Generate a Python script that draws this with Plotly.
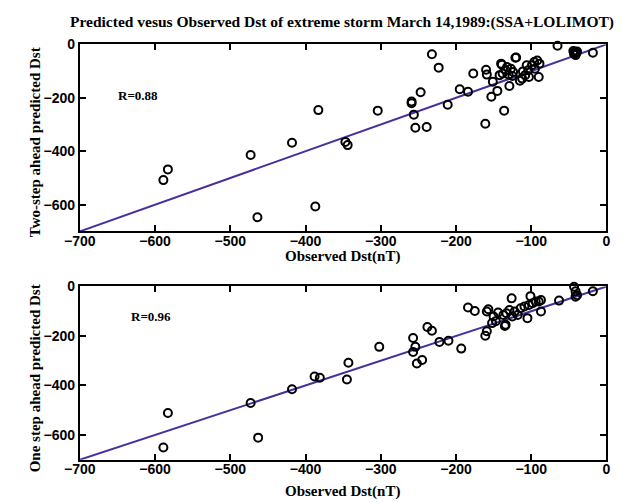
import plotly.graph_objects as go

# Two-step ahead (top panel)
obs_two = [-589, -583, -473, -464, -418, -383, -387, -347, -344, -304, -259, -259, -256, -254, -239,
           -247, -232, -223, -211, -195, -184, -177, -161, -160, -159, -153, -151, -145, -139, -136,
           -142, -138, -134, -132, -127, -124, -130, -125, -129, -120, -115, -112, -108, -104, -99,
           -96, -92, -89, -90, -103, -106, -95, -111, -140, -121, -65, -44, -42, -40, -43, -39, -41, -18]
pred_two = [-508, -468, -414, -647, -368, -246, -607, -365, -377, -248, -214, -220, -263, -312, -309,
            -179, -37, -87, -226, -168, -177, -109, -297, -95, -113, -196, -140, -174, -76, -248,
            -115, -109, -97, -85, -91, -103, -113, -118, -156, -49, -136, -128, -115, -97, -78,
            -66, -60, -72, -122, -122, -78, -91, -101, -72, -50, -5, -25, -28, -32, -36, -27, -40, -31]

# One-step ahead (bottom panel)
obs_one = [-589, -583, -473, -463, -418, -388, -381, -345, -343, -302, -257, -254, -257, -252, -245,
           -238, -232, -222, -210, -193, -184, -175, -161, -159, -157, -152, -150, -144, -134, -126,
           -137, -133, -129, -125, -122, -118, -114, -109, -105, -103, -101, -98, -94, -90, -87,
           -87, -63, -43, -41, -41, -39, -18, -159, -135, -147]
pred_one = [-651, -511, -471, -611, -415, -364, -369, -376, -308, -244, -208, -244, -265, -311, -297,
            -164, -179, -224, -219, -251, -85, -99, -199, -181, -92, -148, -121, -105, -155, -48,
            -115, -108, -95, -121, -101, -115, -88, -81, -128, -75, -39, -68, -61, -61, -55,
            -101, -57, -1, -19, -41, -35, -19, -101, -160, -140]

line_x = [-700, 0]
line_y = [-700, 0]

x_ticks = [-700, -600, -500, -400, -300, -200, -100, 0]
y_ticks = [0, -200, -400, -600]

title_text = "Predicted vesus Observed Dst of extreme storm March 14,1989:(SSA+LOLIMOT)"
xlabel = "Observed Dst(nT)"
ylabel_top = "Two-step ahead predicted Dst"
ylabel_bot = "One step ahead predicted Dst"
r_top = "R=0.88"
r_bot = "R=0.96"

W, H = 623, 502
def py(p):
    return 1 - p / H

LINE_COLOR = "#4a2f9c"
marker = dict(symbol="circle-open", size=8, color="black", line=dict(width=2, color="black"))

fig = go.Figure()
fig.add_trace(go.Scatter(x=line_x, y=line_y, mode="lines", line=dict(color=LINE_COLOR, width=2),
                         xaxis="x", yaxis="y", showlegend=False, hoverinfo="skip"))
fig.add_trace(go.Scatter(x=obs_two, y=pred_two, mode="markers", marker=marker, cliponaxis=False,
                         xaxis="x", yaxis="y", showlegend=False))
fig.add_trace(go.Scatter(x=line_x, y=line_y, mode="lines", line=dict(color=LINE_COLOR, width=2),
                         xaxis="x2", yaxis="y2", showlegend=False, hoverinfo="skip"))
fig.add_trace(go.Scatter(x=obs_one, y=pred_one, mode="markers", marker=marker, cliponaxis=False,
                         xaxis="x2", yaxis="y2", showlegend=False))

tickfont = dict(family="Liberation Sans, Arial", size=14, color="black", weight="bold")
common_x = dict(range=[-700, 0], tickvals=x_ticks, showline=True, linewidth=2, linecolor="black",
                mirror="ticks", ticks="inside", ticklen=6, tickwidth=2, tickcolor="black",
                showgrid=False, zeroline=False, tickfont=tickfont, fixedrange=True,
                ticklabelstandoff=-4)
common_y = dict(range=[-700, 0], tickvals=y_ticks, showline=True, linewidth=2, linecolor="black",
                mirror="ticks", ticks="inside", ticklen=6, tickwidth=2, tickcolor="black",
                showgrid=False, zeroline=False, tickfont=tickfont, fixedrange=True)

xd = [66 / W, 610 / W]
fig.update_layout(
    width=W, height=H, margin=dict(l=0, r=0, t=0, b=0),
    paper_bgcolor="white", plot_bgcolor="white",
    xaxis=dict(domain=xd, anchor="y", **common_x),
    yaxis=dict(domain=[py(227), py(37)], anchor="x", **common_y),
    xaxis2=dict(domain=xd, anchor="y2", **common_x),
    yaxis2=dict(domain=[py(459), py(283)], anchor="x2", **common_y),
)

serif = "Liberation Serif, Times New Roman"
ann = []
ann.append(dict(text=title_text, x=337 / W, y=py(14), xref="paper", yref="paper", showarrow=False,
                font=dict(family=serif, size=15.5, color="black", weight="bold"), xanchor="center", yanchor="middle"))
for yy in (253, 491):
    ann.append(dict(text=xlabel, x=337 / W, y=py(yy), xref="paper", yref="paper", showarrow=False,
                    font=dict(family=serif, size=15, color="black", weight="bold"), xanchor="center", yanchor="middle"))
ann.append(dict(text=ylabel_top, x=19 / W, y=py(136), xref="paper", yref="paper", showarrow=False, textangle=-90,
                font=dict(family=serif, size=15, color="black", weight="bold"), xanchor="center", yanchor="middle"))
ann.append(dict(text=ylabel_bot, x=20 / W, y=py(376), xref="paper", yref="paper", showarrow=False, textangle=-90,
                font=dict(family=serif, size=15, color="black", weight="bold"), xanchor="center", yanchor="middle"))
ann.append(dict(text=r_top, x=-623, y=-192, xref="x", yref="y", showarrow=False,
                font=dict(family=serif, size=13, color="black", weight="bold")))
ann.append(dict(text=r_bot, x=-606, y=-120, xref="x2", yref="y2", showarrow=False,
                font=dict(family=serif, size=13, color="black", weight="bold")))
fig.update_layout(annotations=ann)

fig.write_html("out.html")
